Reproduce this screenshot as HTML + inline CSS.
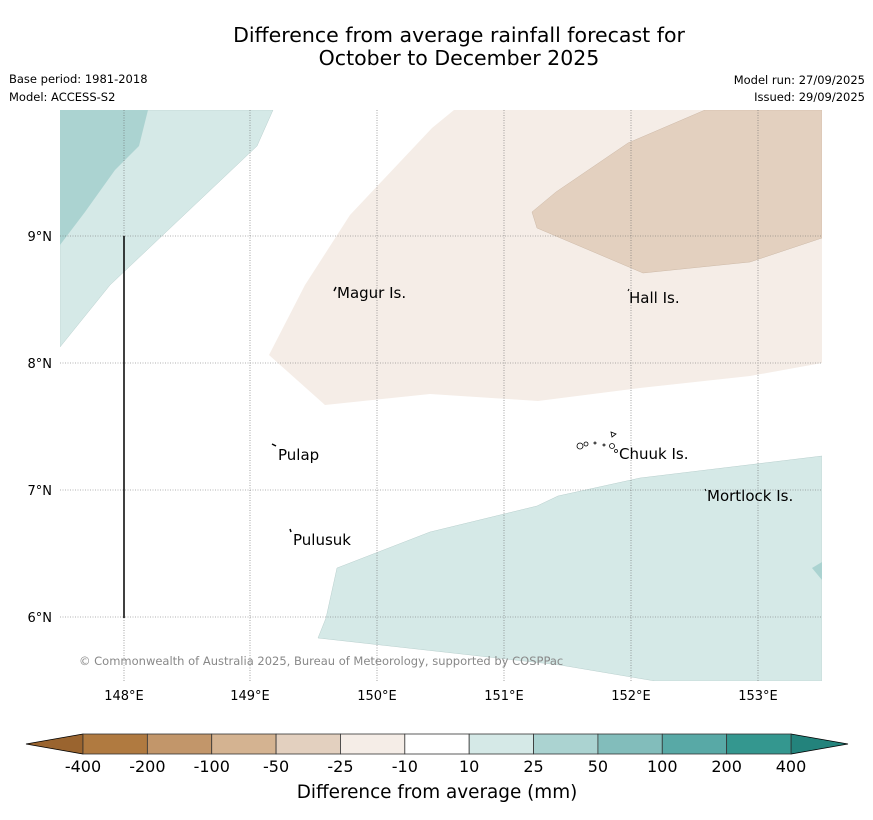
<!DOCTYPE html>
<html><head><meta charset="utf-8"><style>
body{margin:0;background:#fff;width:873px;height:816px;overflow:hidden;font-family:"DejaVu Sans","Liberation Sans",sans-serif}
</style></head><body>
<svg width="873" height="816" xmlns="http://www.w3.org/2000/svg" font-family="DejaVu Sans, Liberation Sans, sans-serif">
<text x="459" y="42" text-anchor="middle" font-size="20.5">Difference from average rainfall forecast for</text>
<text x="459" y="65" text-anchor="middle" font-size="20.5">October to December 2025</text>
<text x="9" y="83" font-size="11.5">Base period: 1981-2018</text>
<text x="9" y="101" font-size="11.5">Model: ACCESS-S2</text>
<text x="865" y="84" font-size="11.5" text-anchor="end">Model run: 27/09/2025</text>
<text x="865" y="101" font-size="11.5" text-anchor="end">Issued: 29/09/2025</text>
<defs><clipPath id="pa"><rect x="60" y="110" width="762" height="571"/></clipPath></defs>
<g clip-path="url(#pa)">
<polygon fill="#d5e9e7" stroke="#b8cfcd" stroke-width="0.5" points="60,110 273,110 257,146 110,285 60,347"/>
<polygon fill="#abd3d1" points="60,110 148,110 139,146 115,170 85,212 60,245"/>
<polygon fill="#f5ede7" points="454,110 822,110 822,363 750,376 640,388 538,401 430,394 325,405 269,355 305,285 350,215 432,128"/>
<polygon fill="#e3d0bf" stroke="#cdb9a7" stroke-width="0.5" points="705,110 822,110 822,238 750,262 643,273 537,228 532,212 556,192 628,143"/>
<polygon fill="#d5e9e7" stroke="#b8cfcd" stroke-width="0.5" points="822,456 822,681 655,681 560,665 318,638 326,618 337,568 430,532 537,506 558,496 640,478"/>
<polygon fill="#abd3d1" points="812,568 822,562 822,580"/>
<g stroke="#666" stroke-width="0.6" stroke-dasharray="1,1.5">
<line x1="124" y1="110" x2="124" y2="681"/><line x1="250" y1="110" x2="250" y2="681"/><line x1="377" y1="110" x2="377" y2="681"/><line x1="504" y1="110" x2="504" y2="681"/><line x1="631" y1="110" x2="631" y2="681"/><line x1="758" y1="110" x2="758" y2="681"/>
<line x1="60" y1="236" x2="822" y2="236"/><line x1="60" y1="363" x2="822" y2="363"/><line x1="60" y1="490" x2="822" y2="490"/><line x1="60" y1="617" x2="822" y2="617"/>
</g>
<line x1="124" y1="236" x2="124" y2="618" stroke="#000" stroke-width="1.5"/>
</g>
<g font-size="13" text-anchor="end">
<text x="52" y="241">9°N</text><text x="52" y="368">8°N</text><text x="52" y="495">7°N</text><text x="52" y="622">6°N</text>
</g>
<g font-size="13" text-anchor="middle">
<text x="124" y="700">148°E</text><text x="250" y="700">149°E</text><text x="377" y="700">150°E</text><text x="504" y="700">151°E</text><text x="631" y="700">152°E</text><text x="758" y="700">153°E</text>
</g>
<g font-size="15">
<path d="M334,291 l2,-4" stroke="#000" stroke-width="1.5"/><text x="337" y="298">Magur Is.</text>
<path d="M628,291 l1,-2" stroke="#000"/><text x="629" y="303">Hall Is.</text>
<path d="M272,444 l4,2" stroke="#000" stroke-width="1.5"/><text x="278" y="460">Pulap</text>
<path d="M290,529 l1,3" stroke="#000" stroke-width="1.5"/><text x="293" y="545">Pulusuk</text>
<g stroke="#000" fill="none" stroke-width="0.8"><circle cx="580" cy="446" r="3"/><circle cx="586" cy="444" r="2"/><circle cx="595" cy="443" r="1"/><circle cx="604" cy="445" r="1"/><circle cx="612" cy="446" r="2.5"/><circle cx="616" cy="451" r="1.5"/><path d="M611,432 l5,2 l-4,3z"/></g>
<text x="619" y="459">Chuuk Is.</text>
<path d="M705,489 l1,2" stroke="#000"/><text x="707" y="501">Mortlock Is.</text>
</g>
<text x="79" y="665" font-size="11.5" fill="#888">© Commonwealth of Australia 2025, Bureau of Meteorology, supported by COSPPac</text>
<g id="cbar"></g>
<text x="437" y="798" font-size="18.4" text-anchor="middle">Difference from average (mm)</text>
<script>
const cbTicks=["-400","-200","-100","-50","-25","-10","10","25","50","100","200","400"];
const cbColors=["#b07a40","#c2966a","#d4b391","#e3d0bf","#f5ede7","#ffffff","#d5e9e7","#abd3d1","#82bdbb","#58a9a6","#34978f"];
const g=document.getElementById('cbar');const ns="http://www.w3.org/2000/svg";
const x0=83,x1=791,y0=734,h=20,w=(x1-x0)/cbColors.length;
function mk(t,a){const e=document.createElementNS(ns,t);for(const k in a)e.setAttribute(k,a[k]);g.appendChild(e);return e;}
let l=mk('polygon',{points:`${x0},${y0} 26,${y0+h/2} ${x0},${y0+h}`,fill:'#9a642f',stroke:'#000','stroke-width':0.8});


let r=mk('polygon',{points:`${x1},${y0} 848,${y0+h/2} ${x1},${y0+h}`,fill:'#23837c',stroke:'#000','stroke-width':0.8});


cbColors.forEach((c,i)=>{const e=mk('rect',{x:x0+i*w,y:y0,width:w,height:h,fill:c,stroke:'#333','stroke-width':0.8});

});
cbTicks.forEach((t,i)=>{const e=mk('text',{x:x0+i*w,y:772,'font-size':16,'text-anchor':'middle'});e.textContent=t;

});
</script>
</svg>
</body></html>
